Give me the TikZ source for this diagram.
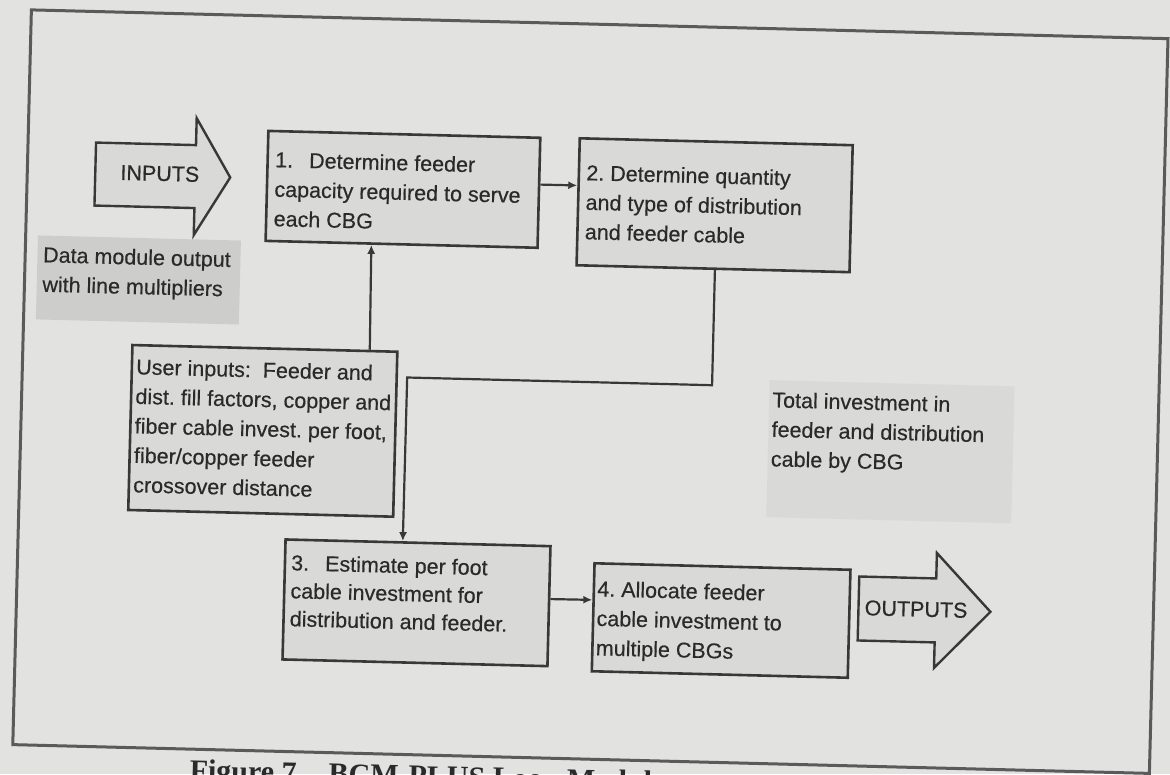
\documentclass[tikz,border=0pt]{standalone}
\usepackage{fontspec}
\setmainfont{Liberation Sans}[FakeBold=0.45]
\newfontfamily\capfont{Liberation Serif}
\usetikzlibrary{calc,arrows.meta}
\definecolor{paper}{HTML}{E2E2E0}
\definecolor{boxfill}{HTML}{D9D9D7}
\definecolor{patchdark}{HTML}{CDCDCB}
\definecolor{patchlight}{HTML}{D9D9D7}
\definecolor{ink}{HTML}{2A2A2A}
\definecolor{rule}{HTML}{383838}
\definecolor{framegray}{HTML}{5A5A5A}
\frenchspacing
\begin{document}
\begin{tikzpicture}[x=1pt,y=-1pt,
  stepbox/.style={draw=rule,line width=2.6pt,fill=boxfill,inner sep=0pt},
  patch/.style={inner sep=0pt},
  body/.style={font=\fontsize{21.5}{29.5}\selectfont,text=ink,align=left,inner sep=0pt,anchor=north west},
  label/.style={font=\fontsize{21.5}{29.5}\selectfont,text=ink,inner sep=0pt},
  conn/.style={draw=rule,line width=2.2pt,-{Latex[length=9pt,width=8pt]}},
  bigarrow/.style={draw=rule,line width=2.4pt,fill=boxfill,line join=miter},
]
\useasboundingbox (0,0) rectangle (1170,774);
\clip (0,0) rectangle (1170,774);
\fill[paper] (0,0) rectangle (1170,774);

\begin{scope}[rotate around={-1.45:(585,387)}, transform shape]
  % outer frame
  \draw[framegray,line width=3pt] (22,24) rectangle (1159,759);

  % shaded label backgrounds
  \node[patch,fill=patchdark,minimum width=203pt,minimum height=84pt] (dmbg) at (135.8,291.3) {};
  \node[patch,fill=patchlight,minimum width=245pt,minimum height=137pt] (tibg) at (892,444) {};

  % block arrows
  \draw[bigarrow] (90,155) -- (190,155) -- (190,128) -- (225,186.5) -- (190,245) -- (190,218) -- (90,218) -- cycle;
  \node[label] (inputs) at (154.6,184.3) {INPUTS};
  \draw[bigarrow] (864,569.5) -- (941,569.5) -- (941,544) -- (996,601.5) -- (941,659) -- (941,633.5) -- (864,633.5) -- cycle;
  \node[label] (outputs) at (921.6,600.7) {OUTPUTS};

  % process boxes
  \node[stepbox,minimum width=272pt,minimum height=110pt] (b1) at (398,194) {};
  \node[stepbox,minimum width=273pt,minimum height=127pt] (b2) at (710,202) {};
  \node[stepbox,minimum width=265pt,minimum height=165pt] (bu) at (264,439) {};
  \node[stepbox,minimum width=265pt,minimum height=120pt] (b3) at (422,607) {};
  \node[stepbox,minimum width=256pt,minimum height=108pt] (b4) at (727,617) {};

  % box texts
  \node[body] (t1) at (269.4,154.2) {\strut 1.\hspace{16pt}Determine feeder\\capacity required to serve\\each CBG};
  \node[body] (t2) at (580.8,159.4) {\strut 2. Determine quantity\\and type of distribution\\and feeder cable};
  \node[body] (tu) at (135.7,364.8) {\strut User inputs:\ \ Feeder and\\dist. fill factors, copper and\\fiber cable invest. per foot,\\fiber/copper feeder\\crossover distance};
  \node[body,font=\fontsize{21.5}{28}\selectfont] (t3) at (295.6,557.8) {\strut 3.\hspace{16pt}Estimate per foot\\cable investment for\\distribution and feeder.};
  \node[body] (t4) at (602.3,575.1) {\strut 4. Allocate feeder\\cable investment to\\multiple CBGs};
  \node[body] (tdm) at (39.8,255.1) {\strut Data module output\\with line multipliers};
  \node[body] (tti) at (772.5,381.7) {\strut Total investment in\\feeder and distribution\\cable by CBG};

  % connectors
  \coordinate (e1) at (712,382);
  \coordinate (e2) at (407,382);
  \draw[conn] ($(b1.north east)!0.427!(b1.south east)$) -- ($(b2.north west)!0.374!(b2.south west)$);
  \draw[conn] ($(bu.north west)!0.892!(bu.north east)$) -- ($(b1.south west)!0.39!(b1.south east)$);
  \draw[conn,line join=miter] ($(b2.south west)!0.507!(b2.south east)$) -- (e1) -- (e2) -- ($(b3.north west)!0.443!(b3.north east)$);
  \draw[conn] ($(b3.north east)!0.442!(b3.south east)$) -- ($(b4.north west)!0.343!(b4.south west)$);

  % caption below the frame
  \node[anchor=base west,inner sep=0pt,text=ink,font=\capfont\bfseries\fontsize{30}{36}\selectfont] (cap) at (199.4,790) {Figure 7\hspace{32pt}BCM-PLUS Loop Module};
\end{scope}
\end{tikzpicture}
\end{document}
